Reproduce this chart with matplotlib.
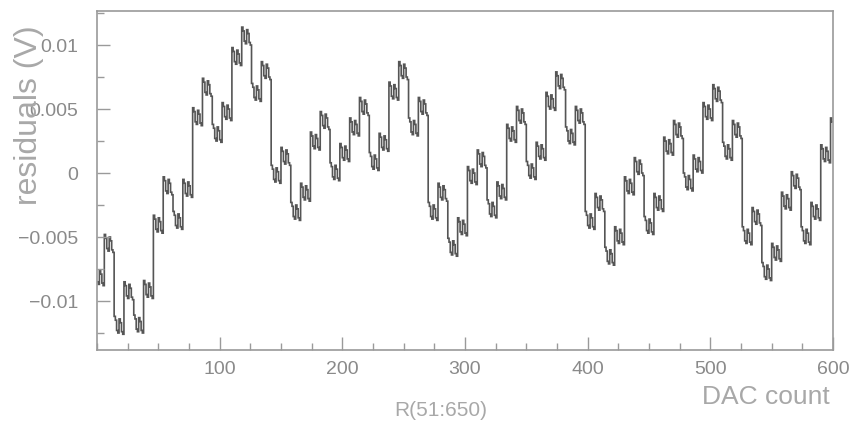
"""
Residuals of a linear fit to a DAC transfer curve, codes 51..650.
Step plot in the style of a ROOT histogram.
"""

import numpy as np
import matplotlib
matplotlib.use("Agg")
import matplotlib.pyplot as plt
from matplotlib.ticker import MultipleLocator, FixedLocator

# upper level of each 8-code group (V) left to right;
# first group is partial (6 codes), last one too (2 codes)
BLOCK_TOP = [
    -0.0074, -0.0048, -0.0112, -0.0085, -0.0111, -0.0084, -0.0033, -0.0003,
    -0.0030, -0.0005, 0.0051, 0.0074, 0.0038, 0.0055, 0.0098, 0.0114,
    0.0070, 0.0087, 0.0006, 0.0020, -0.0023, -0.0008, 0.0032, 0.0048,
    0.0008, 0.0023, 0.0043, 0.0059, 0.0016, 0.0031, 0.0071, 0.0087,
    0.0043, 0.0059, -0.0023, -0.0008, -0.0051, -0.0035, 0.0005, 0.0018,
    -0.0021, -0.0007, 0.0038, 0.0052, 0.0009, 0.0024, 0.0063, 0.0079,
    0.0036, 0.0052, -0.0030, -0.0016, -0.0058, -0.0042, -0.0003, 0.0012,
    -0.0034, -0.0016, 0.0028, 0.0041, 0.0000, 0.0014, 0.0055, 0.0069,
    0.0024, 0.0041, -0.0042, -0.0027, -0.0070, -0.0055, -0.0015, 0.0001,
    -0.0042, -0.0023, 0.0022, 0.0043,
]

# small wiggle seen inside every 8-code group (offset from the top level)
WIGGLE = [0.0, -0.0003, -0.0011, -0.0013, -0.0002, -0.0005, -0.0012, -0.0014]

FIRST_LEN = 6
LAST_LEN = 2

Y_TICKS = [-0.01, -0.005, 0.0, 0.005, 0.01]
Y_TICK_LABELS = ["\u22120.01", "\u22120.005", "0", "0.005", "0.01"]
X_TICKS = [100, 200, 300, 400, 500, 600]


def build_residuals():
    wig = np.array(WIGGLE)
    parts = [BLOCK_TOP[0] + wig[8 - FIRST_LEN:]]
    for top in BLOCK_TOP[1:-1]:
        parts.append(top + wig)
    parts.append(BLOCK_TOP[-1] + wig[:LAST_LEN])
    return np.concatenate(parts)


resid = build_residuals()
edges = np.arange(len(resid) + 1)

plt.rcParams["font.family"] = ["Liberation Sans", "DejaVu Sans"]

fig = plt.figure(figsize=(8.52, 4.29), dpi=100)
ax = fig.add_axes([0.1138, 0.1841, 0.8639, 0.7903])

frame_col = "#9a9a9a"
ax.stairs(resid, edges, baseline=None, color="#555555", linewidth=1.2)

ax.set_xlim(0, 600)
ax.set_ylim(-0.01383, 0.01266)

ax.xaxis.set_major_locator(FixedLocator(X_TICKS))
ax.xaxis.set_minor_locator(MultipleLocator(25))
ax.set_yticks(Y_TICKS)
ax.set_yticklabels(Y_TICK_LABELS)
ax.yaxis.set_minor_locator(MultipleLocator(0.0025))

ax.tick_params(which="both", direction="in", top=False, right=False,
               color=frame_col, width=1.0, labelcolor="#8a8a8a", labelsize=14)
ax.tick_params(which="major", length=9.5)
ax.tick_params(which="minor", length=5)
ax.tick_params(axis="y", pad=13.5)
ax.tick_params(axis="x", pad=8)

for sp in ax.spines.values():
    sp.set_color(frame_col)
    sp.set_linewidth(1.2)

fig.text(0.034, 0.732, "residuals (V)", rotation=90, ha="center", va="center",
         fontsize=23, color="#a8a8a8")
fig.text(0.974, 0.0746, "DAC count", ha="right", va="center",
         fontsize=19, color="#a8a8a8")
fig.text(0.5176, 0.042, "R(51:650)", ha="center", va="center",
         fontsize=15, color="#a8a8a8")

fig.savefig("out.png", dpi=100)
